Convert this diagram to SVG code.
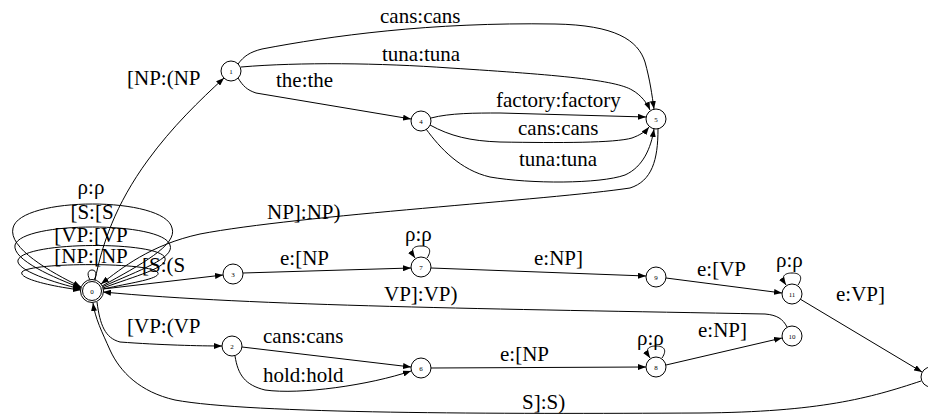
<svg xmlns="http://www.w3.org/2000/svg" width="928" height="414" viewBox="0 0 928 414">
<style>
.n{fill:#fff;stroke:#000;stroke-width:1}
.nl{font-size:7px;text-anchor:middle}
.e{fill:none;stroke:#000;stroke-width:1}
.a{marker-end:url(#ah)}
.t{font-size:21px;fill:#000}
.m{text-anchor:middle}
</style>
<defs>
<marker id="ah" markerUnits="userSpaceOnUse" markerWidth="8" markerHeight="6" refX="8" refY="3" orient="auto">
<path d="M0,0 L8,3 L0,6 z" fill="#000"/>
</marker>
</defs>
<rect width="928" height="414" fill="#fff"/>
<g id="edges">
<path class="e a" d="M102,286 C140,265 178,245 172,228 C165,196 20,196 13,228 C8,248 50,272 81,287"/>
<path class="e a" d="M102,287 C140,270 175,258 170,245 C163,221 22,221 15,245 C12,260 55,278 81,288"/>
<path class="e a" d="M103,288 C135,276 168,268 165,258 C160,241 25,241 18,260 C15,270 55,283 81,289"/>
<path class="e a" d="M103,289 C130,283 160,279 158,273 C155,262 30,262 22,272 C18,279 55,287 81,290"/>
<path class="e" d="M90,280 C86,273 89,270 92,270 C95,270 98,273 94,280"/>
<path class="e a" d="M95,280 C102,245 115,205 148,160 C172,127 200,100 224,78"/>
<path class="e a" d="M238,64 C244,56 250,52 262,49 C330,36 430,22 555,24 C615,25 638,40 645,62 C650,80 652,95 654,109"/>
<path class="e a" d="M241,67 C300,62 380,63 450,68 C560,75 615,80 632,90 C641,95 647,103 650,110"/>
<path class="e a" d="M238,78 C243,86 247,90 256,93 L411,119"/>
<path class="e a" d="M431,118 C450,113 475,113 500,113 L646,117"/>
<path class="e a" d="M430,125 C450,136 470,141 500,142 C560,143 615,143 632,138 C640,135 645,132 649,127"/>
<path class="e a" d="M426,129 C440,148 460,170 490,177 C530,184 600,184 625,175 C643,167 651,148 654,129"/>
<path class="e a" d="M658,129 C658,160 652,181 630,188 C550,200 300,215 200,234 C150,245 122,268 101,284"/>
<path class="e a" d="M103,289 L223,275"/>
<path class="e a" d="M243,273 L411,268"/>
<path class="e a" d="M427,258 C433,249 428,246 421,246 C414,246 409,249 415,258"/>
<path class="e a" d="M431,268 L646,276"/>
<path class="e a" d="M666,278 L782,293"/>
<path class="e a" d="M798,285 C804,276 799,273 792,273 C785,273 780,276 786,285"/>
<path class="e a" d="M800,299 L922,372"/>
<path class="e a" d="M787,327 C783,319 777,315 765,314 C500,309 250,306 103,292"/>
<path class="e a" d="M97,302 C100,325 105,338 120,342 C160,345 200,346 222,346"/>
<path class="e a" d="M242,347 L411,367"/>
<path class="e a" d="M235,356 C238,375 245,385 265,390 C300,395 370,385 411,371"/>
<path class="e a" d="M431,368 L646,367"/>
<path class="e a" d="M662,358 C668,349 663,346 656,346 C649,346 644,349 650,358"/>
<path class="e a" d="M666,365 L782,338"/>
<path class="e a" d="M921,381 C870,398 820,412 700,413 C500,414 250,414 175,400 C140,392 120,372 110,350 C102,332 95,318 93,303"/>
</g>
<g id="labels" font-family="Liberation Serif, DejaVu Serif, serif">
<text class="t m" x="91" y="194">ρ:ρ</text>
<text class="t m" x="92" y="219">[S:[S</text>
<text class="t m" x="91" y="242">[VP:[VP</text>
<text class="t m" x="91" y="263">[NP:[NP</text>
<text class="t" x="127" y="85">[NP:(NP</text>
<text class="t" x="380" y="23">cans:cans</text>
<text class="t" x="382" y="61">tuna:tuna</text>
<text class="t" x="276" y="87">the:the</text>
<text class="t" x="496" y="107">factory:factory</text>
<text class="t" x="518" y="135">cans:cans</text>
<text class="t" x="519" y="166">tuna:tuna</text>
<text class="t" x="267" y="219">NP]:NP)</text>
<text class="t" x="142" y="272">[S:(S</text>
<text class="t" x="280" y="265">e:[NP</text>
<text class="t" x="405" y="241">ρ:ρ</text>
<text class="t" x="534" y="265">e:NP]</text>
<text class="t" x="697" y="276">e:[VP</text>
<text class="t" x="776" y="267">ρ:ρ</text>
<text class="t" x="836" y="301">e:VP]</text>
<text class="t" x="384" y="301">VP]:VP)</text>
<text class="t" x="127" y="333">[VP:(VP</text>
<text class="t" x="263" y="343">cans:cans</text>
<text class="t" x="263" y="382">hold:hold</text>
<text class="t" x="500" y="361">e:[NP</text>
<text class="t" x="637" y="345">ρ:ρ</text>
<text class="t" x="698" y="337">e:NP]</text>
<text class="t" x="522" y="409">S]:S)</text>
</g>
<g font-family="Liberation Serif, DejaVu Serif, serif">
<g id="node0"><circle class="n" cx="92" cy="291" r="11.5"/><circle class="n" cx="92" cy="291" r="9.5"/><text class="nl" x="92" y="293.5">0</text></g>
<g id="node1"><circle class="n" cx="231" cy="71" r="10"/><text class="nl" x="231" y="73.5">1</text></g>
<g id="node2"><circle class="n" cx="232" cy="346" r="10"/><text class="nl" x="232" y="348.5">2</text></g>
<g id="node3"><circle class="n" cx="233" cy="274" r="10"/><text class="nl" x="233" y="276.5">3</text></g>
<g id="node4"><circle class="n" cx="421" cy="121" r="10"/><text class="nl" x="421" y="123.5">4</text></g>
<g id="node5"><circle class="n" cx="656" cy="119" r="10"/><text class="nl" x="656" y="121.5">5</text></g>
<g id="node6"><circle class="n" cx="421" cy="368" r="10"/><text class="nl" x="421" y="370.5">6</text></g>
<g id="node7"><circle class="n" cx="421" cy="267" r="10"/><text class="nl" x="421" y="269.5">7</text></g>
<g id="node8"><circle class="n" cx="656" cy="367" r="10"/><text class="nl" x="656" y="369.5">8</text></g>
<g id="node9"><circle class="n" cx="656" cy="277" r="10"/><text class="nl" x="656" y="279.5">9</text></g>
<g id="node10"><circle class="n" cx="792" cy="336" r="10"/><text class="nl" x="792" y="338.5">10</text></g>
<g id="node11"><circle class="n" cx="792" cy="294" r="10"/><text class="nl" x="792" y="296.5">11</text></g>
<g id="node12"><circle class="n" cx="931" cy="377" r="10"/><text class="nl" x="931" y="379.5">12</text></g>
</g>
</svg>
